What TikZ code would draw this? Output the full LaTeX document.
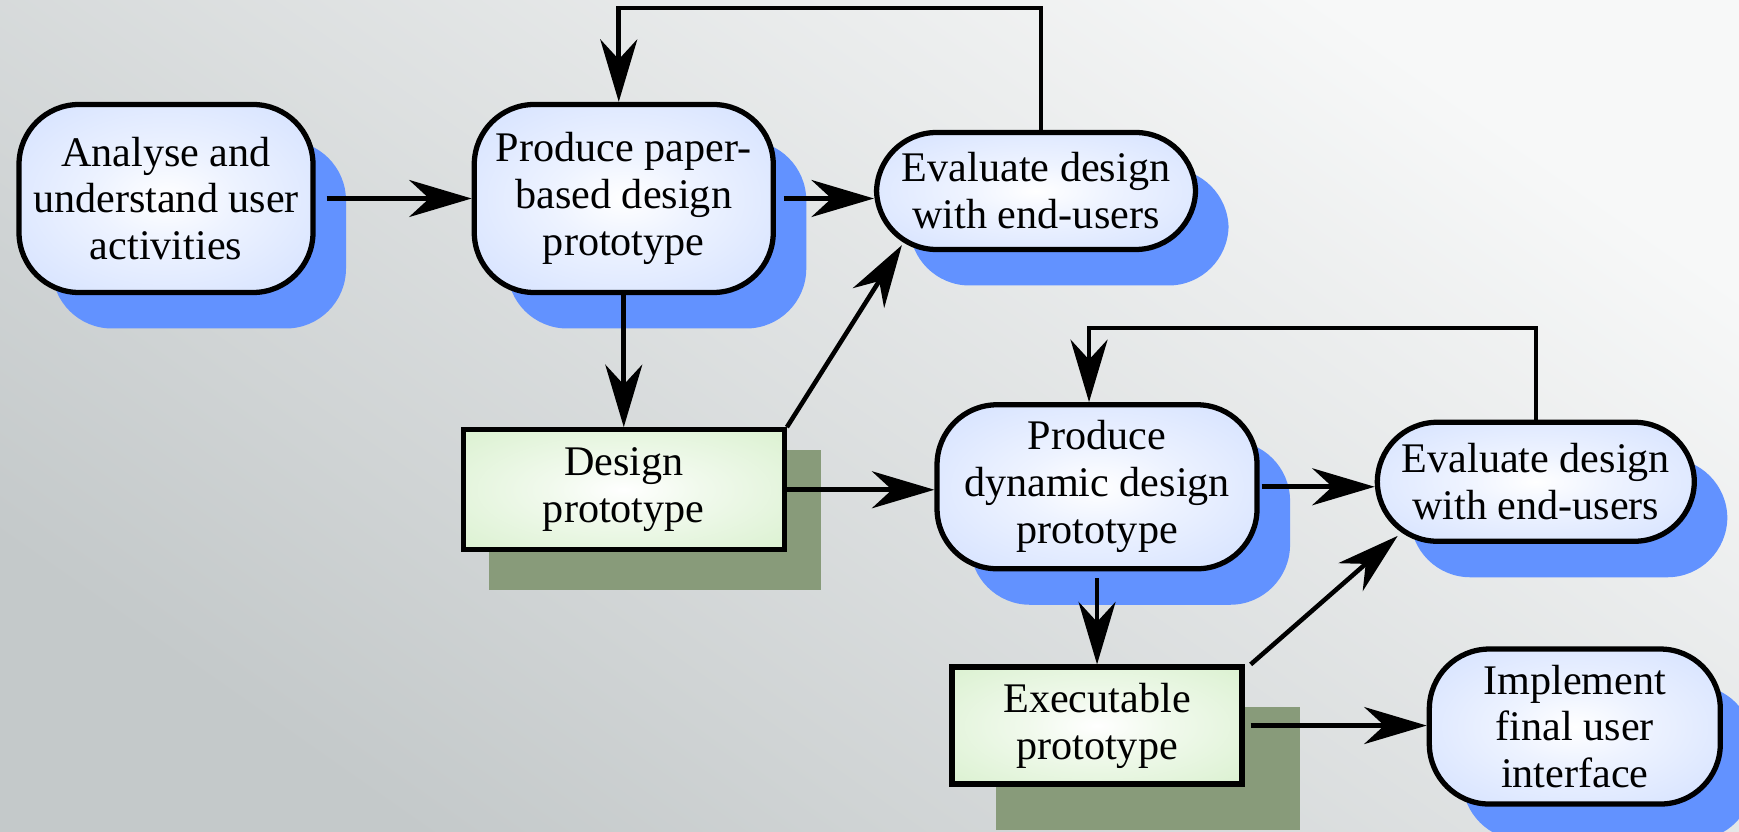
\documentclass[tikz,border=0pt]{standalone}
\usepackage{fontspec}
\setmainfont{Liberation Serif}
\usetikzlibrary{arrows.meta, positioning, calc, shadows, backgrounds}
\definecolor{boxblue}{RGB}{196, 214, 255}
\definecolor{shadowblue}{RGB}{98, 146, 255}
\definecolor{protogreen}{RGB}{206, 236, 192}
\definecolor{protoshade}{RGB}{136, 155, 122}
\definecolor{bglight}{RGB}{247, 248, 248}
\definecolor{bgdark}{RGB}{196, 201, 202}
\pgfdeclareradialshading{blueglow}{\pgfpoint{0bp}{0bp}}{color(0bp)=(white); color(12bp)=(white!70!boxblue); color(50bp)=(boxblue)}
\pgfdeclareradialshading{greenglow}{\pgfpoint{0bp}{0bp}}{color(0bp)=(white); color(12bp)=(white!70!protogreen); color(50bp)=(protogreen)}
\newcommand{\boxfont}{\fontsize{24}{26.7}\selectfont}
\tikzset{
    activity/.style={rectangle, draw, line width=3pt, rounded corners=1.2cm, shade, shading=blueglow, align=center, inner sep=0pt, font=\boxfont,
        drop shadow={shadow xshift=0.66cm, shadow yshift=-0.72cm, fill=shadowblue, opacity=1}},
    proto/.style={rectangle, draw, line width=3pt, shade, shading=greenglow, align=center, inner sep=0pt, font=\boxfont},
    protoback/.style={fill=protoshade},
    flow/.style={-{Stealth[length=1.25cm, width=0.74cm, inset=0.4cm]}, line width=2.6pt}
}

\begin{document}
\begin{tikzpicture}
    \useasboundingbox (0,0) rectangle (34.78,-16.64);

    \node[activity, minimum width=5.88cm, minimum height=3.76cm] (analyse) at (3.32,-3.97) {Analyse and\\understand user\\activities};
    \node[activity, minimum width=5.98cm, minimum height=3.76cm, right=3.12cm of analyse] (paper) {Produce paper-\\based design\\prototype};
    \node[activity, minimum width=6.38cm, minimum height=2.34cm, right=1.96cm of paper, yshift=0.15cm] (evalpaper) {Evaluate design\\with end-users};
    \node[proto, minimum width=6.42cm, minimum height=2.4cm, below=2.64cm of paper] (designproto) {Design\\prototype};

    \node[activity, minimum width=6.4cm, minimum height=3.28cm, right=2.95cm of designproto, yshift=0.06cm] (dynamic) {Produce\\dynamic design\\prototype};
    \node[activity, minimum width=6.34cm, minimum height=2.38cm, right=2.3cm of dynamic, yshift=0.1cm] (evaldynamic) {Evaluate design\\with end-users};
    \node[proto, minimum width=5.8cm, minimum height=2.34cm, below=1.86cm of dynamic] (execproto) {Executable\\prototype};
    \node[activity, minimum width=5.82cm, minimum height=3.1cm, right=3.64cm of execproto, yshift=-0.02cm] (implement) {Implement\\final user\\interface};

    % backdrop and prototype shadows
    \begin{scope}[on background layer]
        \shade[top color=bglight, bottom color=bgdark, shading angle=-35] (0,0) rectangle (34.78,-16.64);
        \fill[protoback] ($(designproto.south west)+(0.56,-0.76)$) rectangle ($(designproto.north east)+(0.68,-0.46)$);
        \fill[protoback] ($(execproto.south west)+(0.94,-0.86)$) rectangle ($(execproto.north east)+(1.1,-0.86)$);
    \end{scope}

    % paper prototype loop
    \draw[flow, shorten <=0.22cm] (analyse) -- (paper);
    \draw[flow, shorten <=0.16cm] (paper.east) -- (paper.east -| evalpaper.west);
    \draw[flow] ([xshift=0.1cm]evalpaper.north) -- ++(0,2.44) -| ([xshift=-0.1cm]paper.north);
    \draw[flow] (paper) -- (designproto);
    \draw[flow] (designproto.north east) -- ([xshift=0.56cm, yshift=0.14cm]evalpaper.south west);

    % dynamic prototype loop
    \draw[flow] (designproto.east) -- (designproto.east -| dynamic.west);
    \draw[flow, shorten <=0.04cm] (dynamic.east) -- (dynamic.east -| evaldynamic.west);
    \draw[flow] (evaldynamic.north) -- ++(0,1.83) -| ([xshift=-0.16cm]dynamic.north);
    \draw[flow, shorten <=0.14cm] (dynamic) -- (execproto);
    \draw[flow] ([xshift=0.12cm]execproto.north east) -- ([xshift=0.46cm, yshift=0.16cm]evaldynamic.south west);
    \draw[flow, shorten <=0.12cm] (execproto.east) -- (execproto.east -| implement.west);
\end{tikzpicture}
\end{document}
